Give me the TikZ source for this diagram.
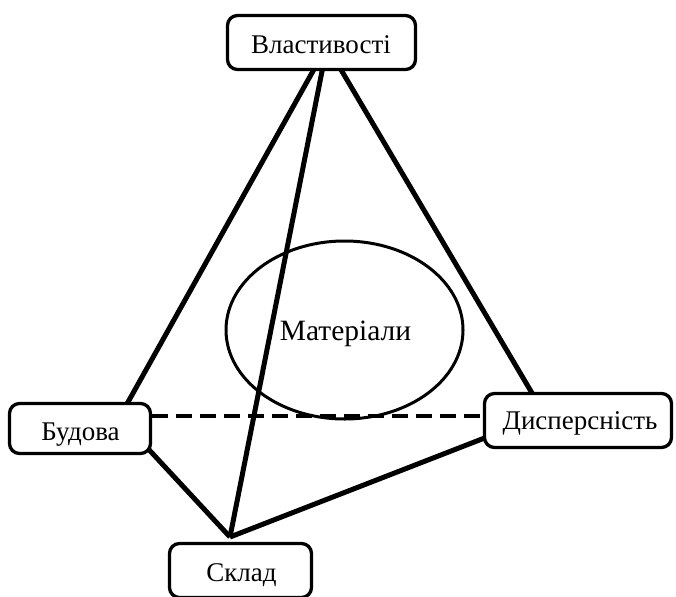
\documentclass[tikz,border=0pt]{standalone}
\usepackage{fontspec}
\setmainfont{Liberation Serif}
\usetikzlibrary{shapes.geometric,backgrounds}
\begin{document}
\begin{tikzpicture}[x=1pt,y=-1pt,
  box/.style={draw, line width=3.3pt, rounded corners=10pt, fill=white, inner sep=0pt},
  lbl/.style={inner sep=0pt, anchor=base, font=\fontsize{27}{32}\selectfont},
  edge/.style={line width=5pt},
  hiddenedge/.style={line width=4.5pt, dash pattern=on 16pt off 8pt}]
\useasboundingbox (0,0) rectangle (676,596);
\clip (0,0) rectangle (676,596);
% boxes
\node[box, minimum width=188pt, minimum height=54pt] (prop) at (321.5,42.5) {};
\node[box, minimum width=141pt, minimum height=50pt] (bud) at (80,428.5) {};
\node[box, minimum width=187pt, minimum height=54pt] (disp) at (578,420.5) {};
\node[box, minimum width=142pt, minimum height=54pt] (skl) at (240.5,570.5) {};
% labels
\node[lbl] (propt) at (321,53.3) {Властивості};
\node[lbl] (budt) at (80.5,440) {Будова};
\node[lbl] (dispt) at (580,429) {Дисперсність};
\node[lbl] (sklt) at (241.5,581) {Склад};
% ellipse
\node[draw, ellipse, line width=3pt, inner sep=0pt, minimum width=237pt, minimum height=178pt] (mat) at (344.5,330) {};
\node[lbl, font=\fontsize{29.5}{34}\selectfont] (matt) at (345.5,340) {Матеріали};
% connectors behind
\coordinate (apex) at (327,46);
\coordinate (vs) at (230,537);
\coordinate (b1) at (118,420);
\coordinate (b2) at (140,440);
\coordinate (d1) at (542,410);
\coordinate (d2) at (500,432);
\begin{scope}[on background layer]
\fill[white] (0,0) rectangle (676,596);
\draw[edge] (apex) -- (b1);
\draw[edge] (apex) -- (vs);
\draw[edge] (apex) -- (d1);
\draw[edge] (b2) -- (vs);
\draw[edge] (vs) -- (d2);
\draw[hiddenedge] ([yshift=12.5pt]bud.east) -- ([yshift=4.5pt]disp.west);
\end{scope}
\end{tikzpicture}
\end{document}
